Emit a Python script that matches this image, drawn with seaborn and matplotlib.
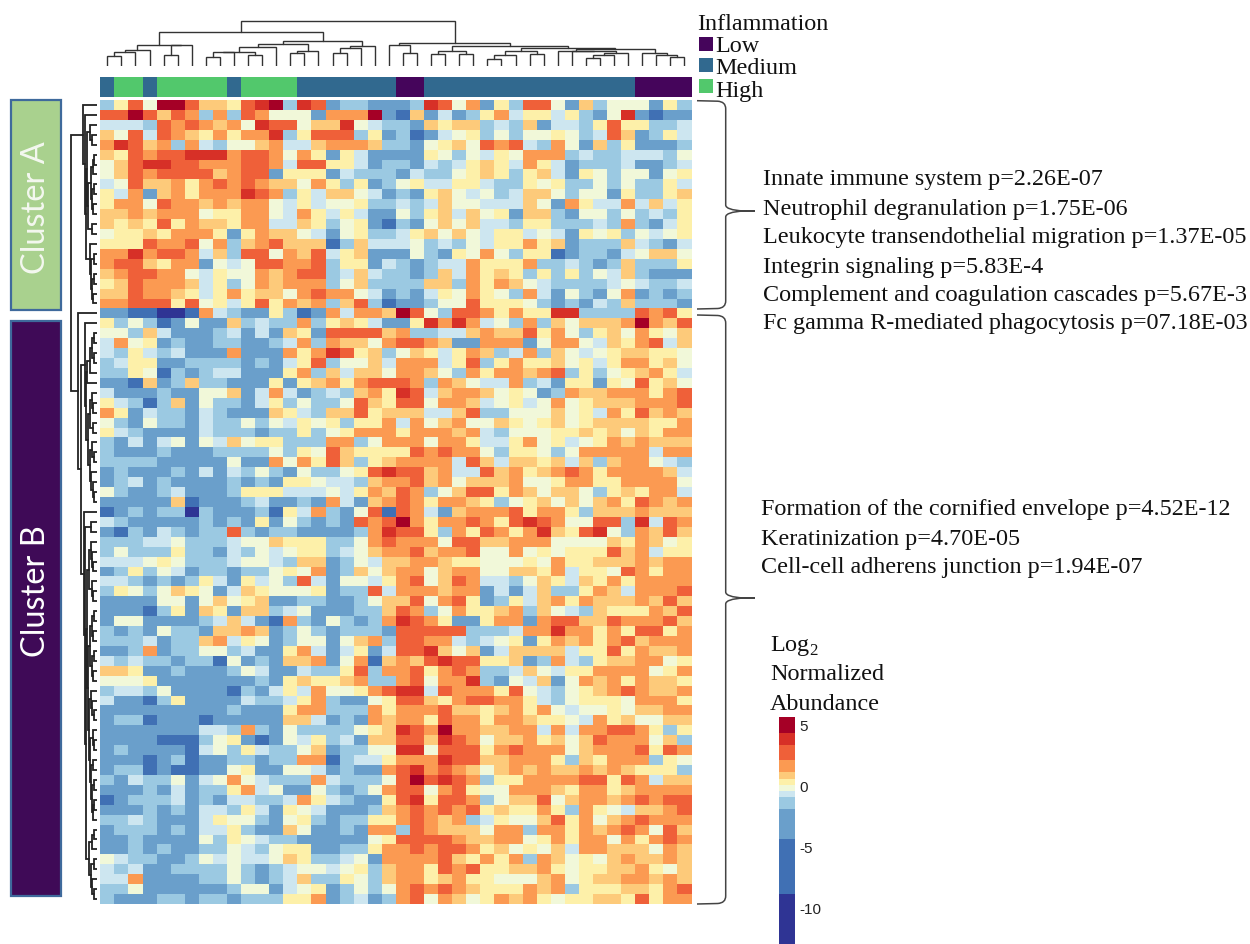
import numpy as np
import pandas as pd
import matplotlib
matplotlib.use("Agg")
import matplotlib.pyplot as plt
import seaborn as sns
from matplotlib.colors import ListedColormap, BoundaryNorm
from matplotlib.patches import PathPatch, Rectangle
from matplotlib.path import Path

W, H = 1250, 945

# colour level of every cell, one string per protein row
LEVEL_CODES = "0123456789RD"
LEVEL_VALUES = [-11, -6.5, -3, -1.4, -0.7, -0.2, 0.3, 0.8, 1.5, 2.7, 3.8, 5]
LEVEL_BOUNDS = [-13, -8.9, -4.4, -1.9, -0.95, -0.46, 0.03, 0.52, 1.06, 2.04, 3.3, 4.3, 5.6]
LEVEL_COLORS = ["#2f3494", "#4070b4", "#6a9fcb", "#9bc9e2", "#cde6f0", "#f1f8d9",
                "#fdf0a9", "#fdca7a", "#fb9a52", "#ef6039", "#d73027", "#a50026"]
CBAR_TICKS = [5, 0, -5, -10]

HEAT_ROWS = [
    "3695DD97769RD3R923322" "23R958263995273555263",
    "99D9798383985552888D2" "172423684664632" "5R2122",
    "444398987" "85R99577R543" "327677343724436966334",
    "7594987686" "88R3699936" "2" "3124563535" "5653497236" "4",
    "8R97838435" "5784478887" "3" "3256759894" "3852736222" "3",
    "769899RRR8" "9985862642" "2" "2265354658" "8834334443" "5",
    "579RR99888" "9984996642" "3" "3243467648" "6423334223" "4",
    "5798999978" "9926662433" "3" "2433567636" "7426535525" "6",
    "4597786898" "9877586362" "3" "5644664336" "5633535336" "4",
    "6482786888" "R983647754" "2" "3267545347" "7535526336" "7",
    "6885988787" "8854645563" "3" "4347554447" "5286448474" "6",
    "7787888566" "8854864642" "2" "5367475627" "7325535343" "6",
    "7676968776" "8844763562" "1" "3257574436" "6333438324" "6",
    "5667688862" "6877542563" "3" "4675754664" "5426563545" "6",
    "6669889583" "7897771374" "4" "4534354668" "6723337432" "4",
    "88R8998473" "9958794672" "2" "2532658536" "6123324577" "5",
    "8997688254" "5998893662" "4" "3234486668" "3343237333" "6",
    "7899885465" "5878993474" "3" "3237486763" "6363547322" "2",
    "6798887463" "5878883573" "3" "3377386875" "4333345433" "4",
    "7798876468" "6775898854" "2" "3246586538" "4253258232" "3",
    "8899969564" "6968783793" "1" "2235596665" "3232437333" "2",
    "2211001843" "2263128488" "7" "D953998686" "6RR3333989" "6",
    "6353125227" "3433836764" "2" "26R8R84538" "3757778D87" "9",
    "5537422234" "2427629999" "7" "8334478779" "6853675865" "7",
    "4856232233" "2234838775" "8" "9987228882" "5885476894" "7",
    "4364342228" "222868R967" "3" "5764687348" "3754567766" "5",
    "3466223333" "2324693557" "4" "8884693686" "6756468867" "5",
    "3365132344" "2226837477" "5" "8875386887" "8936356786" "4",
    "2217237332" "2262678689" "9" "9838754483" "4266265967" "5",
    "4222322557" "2484234378" "6" "R947887565" "2387788868" "9",
    "6431372533" "2463533597" "6" "9958874564" "5856777888" "9",
    "8624332432" "2276437796" "7" "7744793355" "5756486978" "7",
    "5325332433" "5354656366" "8" "4857855765" "6756777766" "8",
    "6432222433" "3233635688" "8" "6888784355" "5667675768" "8",
    "3242452547" "5663338835" "8" "8858864468" "5645687877" "7",
    "3222322233" "3353659766" "6" "6989885366" "5358888848" "8",
    "3333222225" "2285869736" "7" "8888497477" "6747378854" "3",
    "2322232424" "3532533569" "R" "9978449786" "7898688887" "4",
    "2342322223" "2326654437" "8" "8978577785" "5688668888" "5",
    "5322342223" "6664445468" "7" "9835799687" "5775367688" "4",
    "2222271222" "3422328427" "8" "9868876356" "7575786987" "8",
    "1232330322" "2316483259" "1" "9842788896" "8863777877" "7",
    "4322222323" "2625323298" "9" "D86889869R" "9855993R49" "8",
    "2132432339" "3233222238" "R" "9963869868" "R769R53879" "7",
    "3334453334" "5576663358" "9" "8885997788" "8555576875" "6",
    "3533363324" "3545663457" "8" "8978895585" "6566697846" "6",
    "4445653334" "5543772354" "7" "7887665556" "5866777878" "8",
    "2363542332" "3356582375" "7" "8857885577" "6846659868" "8",
    "4432323642" "6453942554" "6" "8957984435" "7647686888" "8",
    "3653576524" "7655562339" "4" "8887882424" "7336874888" "9",
    "2222552575" "6722332235" "7" "7958962364" "7868777879" "7",
    "2221362762" "7734522233" "7" "9835866783" "7543766687" "9",
    "2552222347" "4218325323" "8" "R986226882" "8997798889" "7",
    "3232533277" "8723532333" "2" "9999933348" "8R88686996" "8",
    "3334233784" "6523552578" "3" "9988434562" "6878689788" "8",
    "2238233553" "4226842462" "4" "99R7572477" "7746696877" "8",
    "4343323315" "2327782581" "7" "879R996672" "3843677885" "6",
    "7762232223" "5422433693" "8" "8968983347" "5466888856" "8",
    "5556222222" "2326766783" "3" "89588R3254" "7258786877" "6",
    "3443522221" "3246485568" "9" "RR49888695" "4356789877" "8",
    "4221362222" "4334683225" "6" "9976899886" "4356665888" "6",
    "2222222223" "2226883338" "6" "8889776786" "8545565778" "8",
    "2331222122" "2227742328" "7" "8869886887" "6654867557" "7",
    "2222222443" "8325333356" "7" "R98D887788" "4848899863" "6",
    "2222111356" "2125463427" "7" "997R985778" "6757988857" "3",
    "2322221453" "6433572335" "5" "RR59996898" "8857888969" "8",
    "2221231223" "3233881344" "6" "888R997788" "8637688836" "5",
    "2331211225" "6225542322" "8" "9R89875787" "8778787666" "3",
    "3243352458" "5433384333" "5" "9D9R983668" "8889969847" "7",
    "2223242336" "8452253235" "8" "9958965588" "8768867888" "8",
    "1233342324" "4334864322" "6" "9R69983577" "9578878989" "9",
    "2223232443" "6426542223" "7" "8989896766" "8638654778" "9",
    "3343222465" "5325632336" "6" "8987834655" "7968578988" "8",
    "2333232446" "3227522328" "8" "3987775883" "8868789859" "7",
    "2232222536" "5433222225" "6" "9999877885" "6868858689" "8",
    "2232322335" "4356622336" "8" "8989986756" "5748877758" "7",
    "5433223545" "4457633452" "8" "8889768683" "8756578778" "7",
    "4342233335" "3234554563" "7" "8869896677" "8656677865" "7",
    "4482222335" "3234733653" "7" "8867866555" "7856778878" "7",
    "3352222223" "5524562353" "5" "8989876668" "7836667768" "9",
    "3222332332" "3336682342" "3" "8958756878" "6566776968" "8",
]

# inflammation group of every sample, left to right
SAMPLE_GROUPS = (["Medium"] + ["High"] * 2 + ["Medium"] + ["High"] * 5 + ["Medium"]
                 + ["High"] * 4 + ["Medium"] * 7 + ["Low"] * 2 + ["Medium"] * 15 + ["Low"] * 4)
GROUP_NAMES = ["Low", "Medium", "High"]
GROUP_COLORS = ["#45055b", "#31698f", "#52c86c"]

# dendrograms as nested (height, left, right), leaves are column / row numbers
TOP_TREE = (45.3,
            (34, (20.7, (16.3, (14, (10, 0, 1), 2), 3), (20.7, (11.3, 4, 5), 6)),
             (25, (21.7, (19, (14, (14.5, (9, 7, 8), 9), (11, 10, 11)), 12),
                   (14.7, (13.3, 13, 14), 15)),
              (19.7, (18, (13.3, 16, 17), 18), 19))),
            (23.3, (20.7, 20, (13, 21, 22)),
             (20, (15.5, (12.3, 23, 24), (12.3, 25, 26)),
              (18, (15, (10.7, (7.3, 27, 28), 29), (11.7, 30, 31)),
               (17, (15.5, 32, (15, 33, (13.3, (10.7, (8.3, 34, 35), 36), 37))),
                (13, 38, (11.3, 39, (9, 40, 41))))))))

CLUSTER_A_TREE = (14, 0, (12, 1, (11, (10, (7, 2, (5, 3, 4)),
                                       (9, (6, (4, (3, 5, 6), 7), (5, (3, 8, 9), (4, 10, 11))), (5, 12, 13))),
                                  (7, 14, (6, (3, 15, 16), (5, (3, 17, 18), (4, 19, 20)))))))
B_TOP_TREE = (12, 22, (11, (10, (7, (5, (3, 23, 24), (3, 25, 26)), 27), 28),
                       (9, (7, (5, 29, (4, 30, 31)), (4, 32, 33)),
                        (7, (5, 34, (3, 35, 36)), (6, 37, (4, 38, (3, 39, 40)))))))
B_BOT_TREE = (13, 41, (12, (6, 42, 43),
                       (11, (10, (8, (6, 44, (5, 45, (4, 46, 47))), (5, 48, (4, 49, 50))),
                             (9, (7, (5, (3, 51, 52), (4, 53, 54)), (5, (3, 55, 56), (4, 57, 58))),
                              (8, (6, 59, (5, 60, (3, 61, 62))),
                               (7, (4, 63, (3, 64, 65)),
                                (6, (4, 66, 67), (5, (3, 68, 69), (4, (3, 70, 71), 72))))))),
                        (8, (5, (3, 73, 74), 75), (6, (3, 76, 77), (5, 78, (3, 79, 80)))))))
SIDE_TREE = (26, CLUSTER_A_TREE, (19.3, 21, (16, B_TOP_TREE, B_BOT_TREE)))

PATHWAYS_A = ["Innate immune system p=2.26E-07", "Neutrophil degranulation p=1.75E-06",
              "Leukocyte transendothelial migration p=1.37E-05", "Integrin signaling p=5.83E-4",
              "Complement and coagulation cascades p=5.67E-3",
              "Fc gamma R-mediated phagocytosis p=07.18E-03"]
PATHWAYS_B = ["Formation of the cornified envelope p=4.52E-12", "Keratinization p=4.70E-05",
              "Cell-cell adherens junction p=1.94E-07"]

SERIF_SIZE = 17.4


def px_axes(fig, x0, y0, x1, y1):
    return fig.add_axes([x0 / W, 1 - y1 / H, (x1 - x0) / W, (y1 - y0) / H])


def draw_tree(ax, node, horizontal, color, lw):
    """Draws a nested tree, returns position and height of the node."""
    if not isinstance(node, tuple):
        return node + 0.5, 0
    height, left, right = node
    p0, h0 = draw_tree(ax, left, horizontal, color, lw)
    p1, h1 = draw_tree(ax, right, horizontal, color, lw)
    pos = [p0, p0, p1, p1]
    hts = [h0, height, height, h1]
    if horizontal:
        ax.plot(hts, pos, color=color, lw=lw, solid_joinstyle="miter")
    else:
        ax.plot(pos, hts, color=color, lw=lw, solid_joinstyle="miter")
    return (p0 + p1) / 2, height


def brace(ax, x0, y0, y1, tip_y, x1=725.7, tip_x=755):
    verts = [(x0, y0), (x1 - 8, y0 + 0.5), (x1, y0 + 1), (x1, y0 + 8), (x1, tip_y - 6),
             (x1, tip_y - 1), (x1 + 18, tip_y), (tip_x, tip_y),
             (x1 + 18, tip_y), (x1, tip_y + 1), (x1, tip_y + 6), (x1, y1 - 8),
             (x1, y1 - 1), (x1 - 8, y1 - 0.5), (x0, y1)]
    codes = [Path.MOVETO, Path.LINETO, Path.CURVE3, Path.CURVE3, Path.LINETO,
             Path.CURVE3, Path.CURVE3, Path.LINETO,
             Path.LINETO, Path.CURVE3, Path.CURVE3, Path.LINETO,
             Path.CURVE3, Path.CURVE3, Path.LINETO]
    ax.add_patch(PathPatch(Path(verts, codes), fill=False, ec="#444444", lw=1.1))


def serif_text(ax, x, y, text):
    ax.text(x, y, text, family="Liberation Serif", fontsize=SERIF_SIZE, va="center", color="#111111")


sns.set_theme(style="white")
plt.rcParams["mathtext.fontset"] = "custom"
plt.rcParams["mathtext.rm"] = "Liberation Serif"
plt.rcParams["axes.unicode_minus"] = False

code_to_value = dict(zip(LEVEL_CODES, LEVEL_VALUES))
heat = pd.DataFrame([[code_to_value[c] for c in row] for row in HEAT_ROWS])
assert heat.shape == (81, 42) and not heat.isna().any().any()

cmap = ListedColormap(LEVEL_COLORS)
norm = BoundaryNorm(LEVEL_BOUNDS, cmap.N)

fig = plt.figure(figsize=(W / 100, H / 100), dpi=100, facecolor="white")

ax_heat = px_axes(fig, 100.3, 101, 691.5, 905)
ax_cbar = px_axes(fig, 779, 718, 795, 945)
sns.heatmap(heat, ax=ax_heat, cmap=cmap, norm=norm, xticklabels=False, yticklabels=False,
            cbar_ax=ax_cbar, cbar_kws={"spacing": "proportional", "ticks": CBAR_TICKS})
cbar = ax_heat.collections[0].colorbar
cbar.outline.set_visible(False)
cbar.minorticks_off()
ax_cbar.tick_params(which="both", length=0, pad=3, labelsize=11, labelcolor="#222222",
                    labelfontfamily="Liberation Sans")

# sample annotation strip
ax_strip = px_axes(fig, 100.3, 78, 691.5, 98.3)
strip = pd.DataFrame([[GROUP_NAMES.index(g) for g in SAMPLE_GROUPS]])
sns.heatmap(strip, ax=ax_strip, cmap=ListedColormap(GROUP_COLORS), vmin=-0.5, vmax=2.5,
            cbar=False, xticklabels=False, yticklabels=False)

# column dendrogram
ax_top = px_axes(fig, 100.3, 17, 691.5, 67)
draw_tree(ax_top, TOP_TREE, False, "#333333", 1.0)
ax_top.set_xlim(0, 42)
ax_top.set_ylim(0, 50)
ax_top.axis("off")

# row dendrogram
ax_side = px_axes(fig, 67, 101, 97, 905)
draw_tree(ax_side, SIDE_TREE, True, "#222222", 1.3)
ax_side.set_xlim(30, 0)
ax_side.set_ylim(81, 0)
ax_side.axis("off")

# overlay in picture pixels for boxes, braces and text
ov = fig.add_axes([0, 0, 1, 1], zorder=5)
ov.set_xlim(0, W)
ov.set_ylim(H, 0)
ov.axis("off")
ov.patch.set_alpha(0)

ov.add_patch(Rectangle((11, 101), 50, 210, fc="#a9d18e", ec="#3f6a9c", lw=1.6))
ov.add_patch(Rectangle((11, 322), 50, 575, fc="#3f0a57", ec="#3f6a9c", lw=1.6))
ov.text(36, 208, "Cluster A", color="#f4f8f0", rotation=90, ha="center", va="center",
        family="Lato", fontsize=23.4)
ov.text(36, 591, "Cluster B", color="white", rotation=90, ha="center", va="center",
        family="Lato", fontsize=23.4)

serif_text(ov, 697, 25, "Inflammation")
for name, color, y, text_y in zip(GROUP_NAMES, GROUP_COLORS, [37.7, 59, 80], [46, 69, 92]):
    ov.add_patch(Rectangle((699, y), 14, 14, fc=color, ec="none"))
    serif_text(ov, 715, text_y, name)

brace(ov, 697, 101.7, 310, 212)
brace(ov, 697, 316, 905, 599)

for text, y in zip(PATHWAYS_A, [180, 209, 238, 267, 295, 323]):
    serif_text(ov, 763, y, text)
for text, y in zip(PATHWAYS_B, [510, 539, 568]):
    serif_text(ov, 761, y, text)

for text, y in zip([r"Log$_{\mathrm{2}}$", "Normalized", "Abundance"], [646, 674, 704]):
    serif_text(ov, 770, y, text)

fig.savefig("out.png", dpi=100)
